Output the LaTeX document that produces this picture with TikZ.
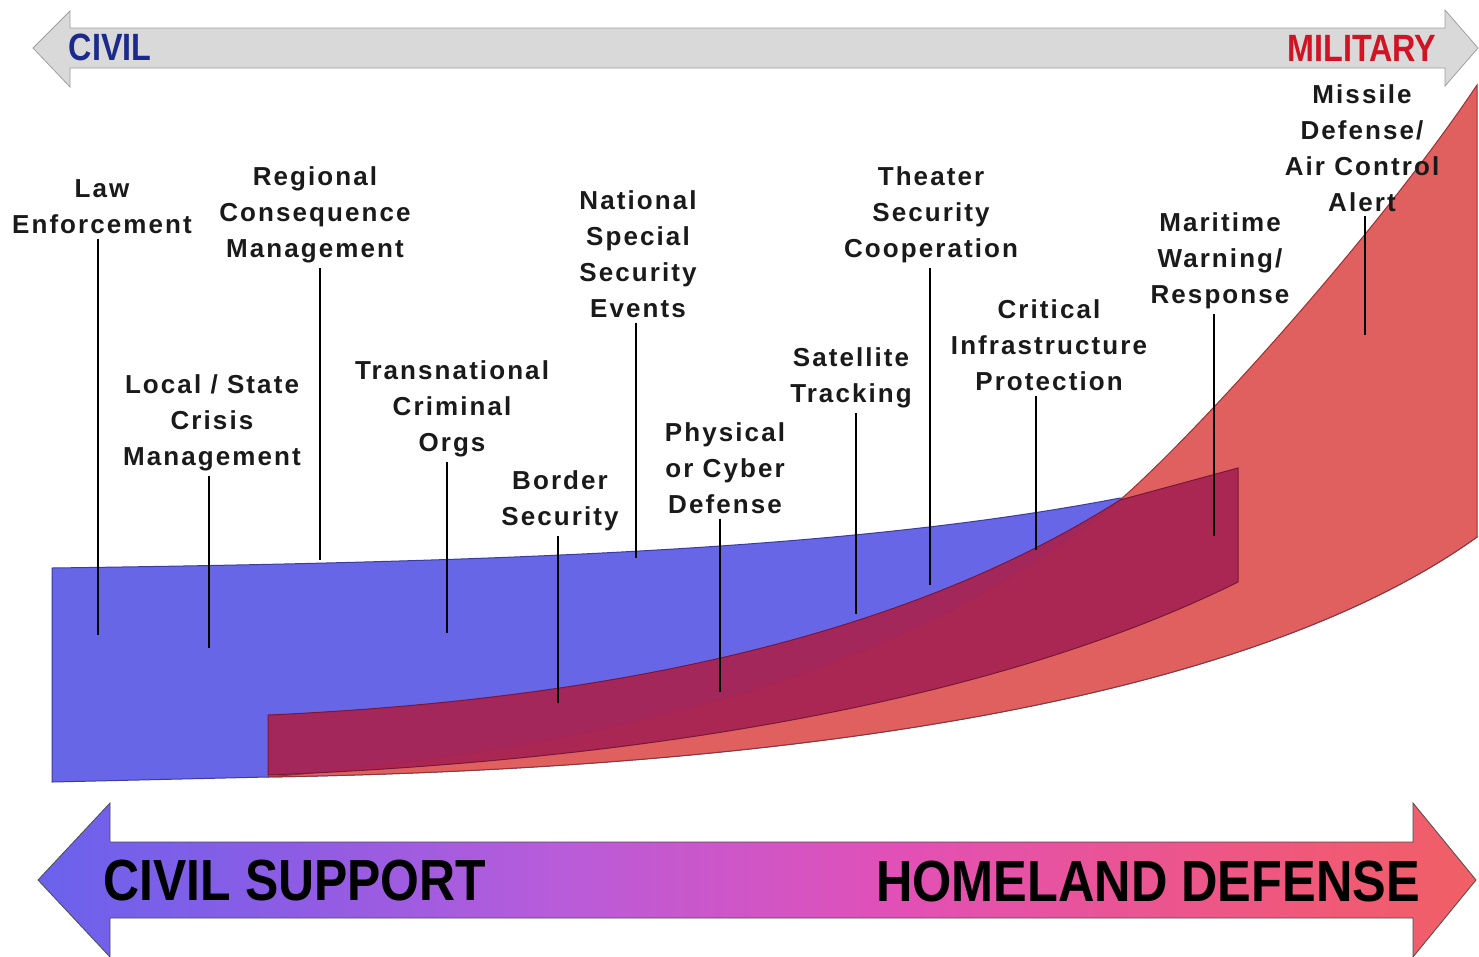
\documentclass[tikz,border=0pt]{standalone}
\usepackage{fontspec}
\usepackage{graphicx}
\setmainfont{Liberation Sans}

\definecolor{scalegray}{RGB}{217,217,217}
\definecolor{scaleedge}{RGB}{160,160,160}
\definecolor{civiltxt}{RGB}{28,42,140}
\definecolor{miltxt}{RGB}{208,20,36}
\definecolor{bluefill}{RGB}{102,102,230}
\definecolor{blueedge}{RGB}{60,60,158}
\definecolor{redfill}{RGB}{224,96,96}
\definecolor{rededge}{RGB}{150,50,50}
\definecolor{crimfill}{RGB}{168,36,84}
\definecolor{crimedge}{RGB}{120,24,56}
\definecolor{labeltxt}{RGB}{26,26,26}
\definecolor{sd0}{RGB}{106,98,236}
\definecolor{sd1}{RGB}{142,92,228}
\definecolor{sd2}{RGB}{184,92,218}
\definecolor{sd3}{RGB}{226,80,182}
\definecolor{sd4}{RGB}{240,88,122}
\definecolor{sd5}{RGB}{240,96,100}

\pgfdeclarehorizontalshading{supdef}{100bp}{
  color(0bp)=(sd0); color(25bp)=(sd0); color(34bp)=(sd1); color(43bp)=(sd2);
  color(55bp)=(sd3); color(69bp)=(sd4); color(75bp)=(sd5); color(100bp)=(sd5)}

\tikzset{
  lbl/.style={font=\bfseries\fontsize{26}{36}\selectfont\addfontfeature{LetterSpace=8},
    align=center, anchor=north, inner sep=5pt, text=labeltxt},
  stem/.style={line width=2pt, black},
  headtxt/.style={font=\bfseries\fontsize{38}{40}\selectfont, inner sep=0pt},
  bigtxt/.style={font=\bfseries\fontsize{58}{60}\selectfont, text=black, inner sep=0pt},
  band/.style={line width=1pt}
}

\begin{document}
\begin{tikzpicture}[x=1pt,y=-1pt]
\fill[white] (0,0) rectangle (1479,956);
\useasboundingbox (0,0) rectangle (1479,956);

% civil / military scale
\draw[fill=scalegray, draw=scaleedge, line width=0.8pt]
  (33,48) -- (70,11) -- (70,28) -- (1445,28) -- (1445,10) -- (1478,48)
  -- (1445,86) -- (1445,68) -- (70,68) -- (70,87) -- cycle;
\node[headtxt, text=civiltxt] (civil) at (110,47) {\scalebox{0.85}[1]{CIVIL}};
\node[headtxt, text=miltxt] (military) at (1362,48) {\scalebox{0.85}[1]{MILITARY}};

% bands
\path[band, fill=bluefill, draw=blueedge]
  (52,568) .. controls (500,562) and (850,550) .. (1120,498) -- (1477,537)
  .. controls (1250,700) and (800,768) .. (268,777) -- (52,782) -- cycle;
\path[band, fill=redfill, draw=rededge]
  (268,777) .. controls (700,740) and (950,640) .. (1120,500)
  .. controls (1200,430) and (1380,230) .. (1477,85) -- (1477,537)
  .. controls (1250,700) and (800,768) .. (268,777) -- cycle;
\path[band, fill=crimfill, fill opacity=0.95, draw=crimedge]
  (268,715) .. controls (600,700) and (900,640) .. (1120,500) -- (1238,468)
  -- (1238,582) .. controls (1000,700) and (650,760) .. (268,775) -- cycle;

% labels
\node[lbl] (law) at (102,174) {Law\\Enforcement};
\node[lbl] (regional) at (315,161) {Regional\\Consequence\\Management};
\node[lbl] (local) at (212,369) {Local / State\\Crisis\\Management};
\node[lbl] (trans) at (452,355) {Transnational\\Criminal\\Orgs};
\node[lbl] (border) at (560,465) {Border\\Security};
\node[lbl] (national) at (638,185) {National\\Special\\Security\\Events};
\node[lbl] (physical) at (725,417) {Physical\\or Cyber\\Defense};
\node[lbl] (satellite) at (851,342) {Satellite\\Tracking};
\node[lbl] (theater) at (931,161) {Theater\\Security\\Cooperation};
\node[lbl] (critical) at (1049,294) {Critical\\Infrastructure\\Protection};
\node[lbl] (maritime) at (1220,207) {Maritime\\Warning/\\Response};
\node[lbl] (missile) at (1362,79) {Missile\\Defense/\\Air Control\\Alert};

\coordinate (law-end) at (98,635);
\coordinate (regional-end) at (320,560);
\coordinate (local-end) at (209,648);
\coordinate (trans-end) at (447,633);
\coordinate (border-end) at (558,703);
\coordinate (national-end) at (636,558);
\coordinate (physical-end) at (720,692);
\coordinate (satellite-end) at (856,614);
\coordinate (theater-end) at (930,585);
\coordinate (critical-end) at (1036,550);
\coordinate (maritime-end) at (1214,536);
\coordinate (missile-end) at (1365,335);

\foreach \n in {law,regional,local,trans,border,national,physical,satellite,theater,critical,maritime,missile}
  \draw[stem] (\n.south -| \n-end) -- (\n-end);

% support / defense arrow
\draw[shading=supdef, draw=black!70, line width=0.8pt]
  (38,880) -- (110,803) -- (110,842) -- (1413,842) -- (1413,803) -- (1476,880)
  -- (1413,957) -- (1413,918) -- (110,918) -- (110,957) -- cycle;
\node[bigtxt] (support) at (295,881) {\scalebox{0.86}[1]{CIVIL SUPPORT}};
\node[bigtxt] (homeland) at (1148,882) {\scalebox{0.87}[1]{HOMELAND DEFENSE}};
\end{tikzpicture}
\end{document}
